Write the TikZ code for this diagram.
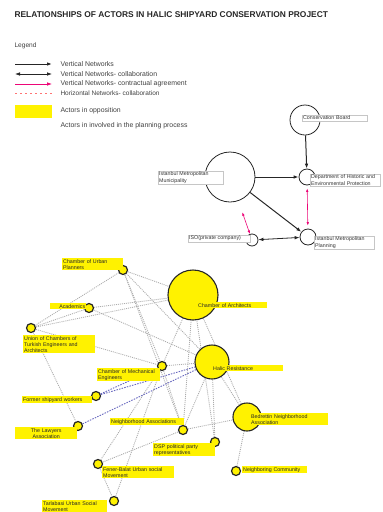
\documentclass[tikz,border=0pt]{standalone}
\usepackage{fontspec}
\setmainfont{Liberation Sans}
\usetikzlibrary{arrows.meta, positioning, backgrounds}

\begin{document}
\begin{tikzpicture}[
    x=1pt, y=-1pt,
    >={Latex[length=5pt,width=3.6pt]},
    actor/.style={circle, draw=black!85, line width=1.1pt, fill=yellow, inner sep=0pt},
    smallactor/.style={actor, minimum size=9pt, line width=1.2pt},
    agency/.style={circle, draw=black!85, line width=0.8pt, inner sep=0pt},
    ylab/.style={fill=yellow, inner sep=1pt, align=left, anchor=north west, font=\fontsize{5.3}{6.1}\selectfont, text=black!85},
    wlab/.style={fill=white, draw=gray!45, line width=0.3pt, inner sep=1pt, align=left, anchor=north west, font=\fontsize{5.3}{6.1}\selectfont, text=black!80},
    net/.style={gray!65, line width=0.85pt, dash pattern=on 1pt off 1pt},
    bnet/.style={blue!40!gray!85, line width=0.9pt, dash pattern=on 1.5pt off 1.2pt},
    vert/.style={->, line width=1pt, draw=black!85},
    collab/.style={<->, line width=0.8pt, draw=black!85},
    contract/.style={<->, line width=0.6pt, draw=magenta!80!red, >={Latex[length=3.5pt,width=2.6pt]}},
    legtext/.style={anchor=west, font=\fontsize{6.9}{8}\selectfont, text=black!75}
]
\useasboundingbox (0,0) rectangle (383,512);

% 1. Title and legend
\node[anchor=west, font=\bfseries\fontsize{8.4}{10}\selectfont, text=black!85] (title) at (11,15)
    {RELATIONSHIPS OF ACTORS IN HALIC SHIPYARD CONSERVATION PROJECT};
\node[legtext, font=\fontsize{6.6}{7}\selectfont] (legend) at (11,46) {Legend};

\node[legtext] (lgvert) at (57,64) {Vertical Networks};
\node[legtext] (lgcollab) at (57,74) {Vertical Networks- collaboration};
\node[legtext] (lgcontract) at (57,84) {Vertical Networks- contractual agreement};
\node[legtext, font=\fontsize{6.5}{7}\selectfont] (lghoriz) at (57,93.5) {Horizontal Networks- collaboration};
\node[fill=yellow, minimum width=37pt, minimum height=13pt, anchor=west, inner sep=0pt] (lgbox) at (15,111) {};
\node[legtext] (lgoppose) at (57,111) {Actors in opposition};
\node[legtext] (lgplan) at (57,126) {Actors in involved in the planning process};

\draw[vert] ([xshift=-42pt]lgvert.west) -- ([xshift=-5pt]lgvert.west);
\draw[collab] ([xshift=-42pt]lgcollab.west) -- ([xshift=-5pt]lgcollab.west);
\draw[->, line width=0.8pt, draw=magenta!80!red] ([xshift=-42pt]lgcontract.west) -- ([xshift=-5pt]lgcontract.west);
\draw[red!55, line width=0.6pt, dash pattern=on 2pt off 3pt] ([xshift=-42pt]lghoriz.west) -- ([xshift=-5pt]lghoriz.west);

% 2. Planning actors (top right)
\node[agency, minimum size=30pt] (cboard) at (305,120) {};
\node[agency, minimum size=16pt] (dhep) at (307,177) {};
\node[agency, minimum size=50pt] (imp) at (230,177) {};
\node[agency, minimum size=16pt] (imppl) at (308,237) {};
\node[agency, minimum size=12pt] (iso) at (252,240) {};

\draw[vert] (cboard) -- (dhep);
\draw[vert] (imp) -- (dhep);
\draw[vert] (imp) -- (imppl);
\draw[collab] (iso) -- (imppl);
\draw[contract, shorten <=12pt] (imp) -- (iso);
\draw[contract, shorten <=3pt, shorten >=3pt] (dhep) -- (imppl);

\node[wlab, text width=63pt] (cboardlab) at (302,115) {Conservation Board};
\node[wlab, text width=68pt] (dheplab) at (310,174) {Department of Historic and\\Environmental Protection};
\node[wlab, text width=63pt] (implab) at (158,171) {Istanbul Metropolitan\\Municipality};
\node[wlab, text width=58pt] (imppllab) at (314,236) {Istanbul Metropolitan\\Planning};
\node[wlab, text width=60pt] (isolab) at (188,235) {ISO(private company)};

% 3. Actors in opposition (bottom)
\node[actor, minimum size=50pt] (carch) at (193,295) {};
\node[actor, minimum size=34pt] (halic) at (212,362) {};
\node[actor, minimum size=28pt] (bna) at (247,417) {};
\node[smallactor] (cup) at (123,270) {};
\node[smallactor] (acad) at (89,308) {};
\node[smallactor] (ucte) at (31,328) {};
\node[smallactor] (cmech) at (162,366) {};
\node[smallactor] (cfsw) at (96,396) {};
\node[smallactor] (law) at (78,426) {};
\node[smallactor] (nbh) at (183,430) {};
\node[smallactor] (fbm) at (98,464) {};
\node[smallactor] (tum) at (114,501) {};
\node[smallactor] (dsp) at (215,442) {};
\node[smallactor] (ncom) at (236,471) {};

% dotted horizontal networks, behind the circles
\begin{scope}[on background layer]
\draw[net] (cup) -- (carch);
\draw[net] (cup) -- (halic);
\draw[net] (cup) -- (ucte);
\draw[net] (cup) -- (cmech);
\draw[net] (cup) -- (nbh);
\draw[net] (acad) -- (carch);
\draw[net] (acad) -- (ucte);
\draw[net] (acad) -- (halic);
\draw[net] (ucte) -- (carch);
\draw[net] (ucte) -- (cmech);
\draw[net] (ucte) -- (law);
\draw[net] (cmech) -- (carch);
\draw[net] (cmech) -- (halic);
\draw[net] (cmech) -- (nbh);
\draw[net] (cmech) -- (fbm);
\draw[bnet] (cfsw) -- (cmech);
\draw[bnet] (cfsw) -- (halic);
\draw[bnet] (law) -- (halic);
\draw[net] (nbh) -- (carch);
\draw[net] (nbh) -- (halic);
\draw[net] (nbh) -- (bna);
\draw[net] (fbm) -- (nbh);
\draw[net] (fbm) -- (tum);
\draw[net] (tum) -- (cmech);
\draw[net] (dsp) -- (carch);
\draw[net] (dsp) -- (halic);
\draw[net] (bna) -- (carch);
\draw[net] (bna) -- (halic);
\draw[net] (bna) -- (ncom);
\end{scope}

\node[ylab, text width=59pt] (cuplab) at (62,258) {Chamber of Urban\\Planners};
\node[ylab, text width=34pt, align=right] (acadlab) at (50,303) {Academics};
\node[ylab, text width=70pt] (uctelab) at (23,335) {Union of Chambers of\\Turkish Engineers and\\Architects};
\node[ylab, text width=61pt] (cmechlab) at (97,368) {Chamber of Mechanical\\Engineers};
\node[ylab, text width=68pt] (cfswlab) at (22,396) {Former shipyard workers};
\node[ylab, text width=60pt, align=center] (lawlab) at (15,427) {The Lawyers\\Association};
\node[ylab, text width=72pt] (nbhlab) at (110,418) {Neighborhood Associations};
\node[ylab, text width=70pt] (fbmlab) at (102,466) {Fener-Balat Urban social\\Movement};
\node[ylab, text width=63pt] (tumlab) at (42,500) {Tarlabasi Urban Social\\Movement};
\node[ylab, text width=60pt] (dsplab) at (153,443) {DSP political party\\representatives};
\node[ylab, text width=76pt] (bnalab) at (250,413) {Bedrettin Neighborhood\\Association};
\node[ylab, text width=63pt] (ncomlab) at (242,466) {Neighboring Community};
\node[ylab, text width=68pt] (carchlab) at (197,302) {Chamber of Architects};
\node[ylab, text width=69pt] (haliclab) at (212,365) {Halic Resistance};

\end{tikzpicture}
\end{document}
